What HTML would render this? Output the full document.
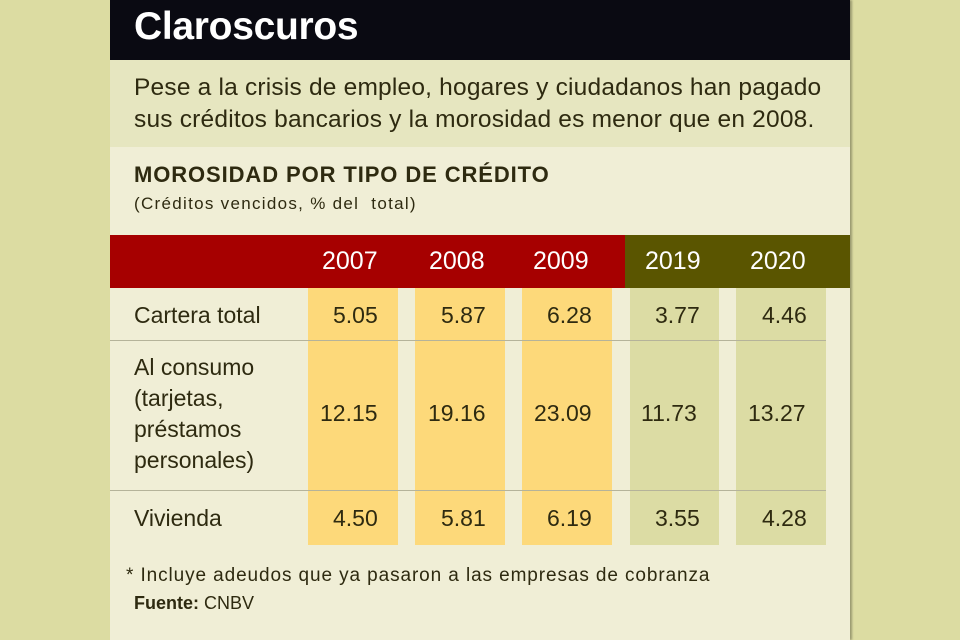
<!DOCTYPE html>
<html><head><meta charset="utf-8"><style>
body{margin:0;width:960px;height:640px;background:#dcdca2;position:relative;overflow:hidden;font-family:"Liberation Sans",sans-serif;color:#2e2a10}
.a{position:absolute}
</style></head><body>
<div class="a" style="left:110px;top:0;width:740px;height:640px;background:#f0eed6;box-shadow:2px 0 2px #9a9a70"></div>
<div class="a" style="left:110px;top:0;width:740px;height:60px;background:#0a0a12"></div>
<div class="a" style="left:134px;top:5px;font-size:39px;font-weight:bold;color:#fff;letter-spacing:-0.3px">Claroscuros</div>
<div class="a" style="left:110px;top:60px;width:740px;height:87px;background:#e6e6c0"></div>
<div class="a" style="left:134px;top:72px;font-size:24.5px;line-height:32px;letter-spacing:0.2px;color:#2e2a10">Pese a la crisis de empleo, hogares y ciudadanos han pagado<br>sus créditos bancarios y la morosidad es menor que en 2008.</div>
<div class="a" style="left:134px;top:162px;font-size:22px;font-weight:bold;letter-spacing:0.9px;color:#2e2a10">MOROSIDAD POR TIPO DE CRÉDITO</div>
<div class="a" style="left:134px;top:194px;font-size:17px;letter-spacing:1.3px;color:#2e2a10">(Créditos vencidos, % del &nbsp;total)</div>
<div class="a" style="left:110px;top:235px;width:515px;height:53px;background:#a60000"></div>
<div class="a" style="left:625px;top:235px;width:225px;height:53px;background:#5a5500"></div>
<div class="a" style="left:308px;top:288px;width:90px;height:257px;background:#fdd97a"></div>
<div class="a" style="left:415px;top:288px;width:90px;height:257px;background:#fdd97a"></div>
<div class="a" style="left:522px;top:288px;width:90px;height:257px;background:#fdd97a"></div>
<div class="a" style="left:630px;top:288px;width:89px;height:257px;background:#dcdca4"></div>
<div class="a" style="left:736px;top:288px;width:90px;height:257px;background:#dcdca4"></div>
<div class="a" style="left:110px;top:340px;width:716px;height:1px;background:#b5b39a"></div>
<div class="a" style="left:110px;top:490px;width:716px;height:1px;background:#b5b39a"></div>
<div class="a" style="left:0;top:247px;font-size:25px;color:#fff;width:960px">
<span class="a" style="left:322px">2007</span><span class="a" style="left:429px">2008</span><span class="a" style="left:533px">2009</span><span class="a" style="left:645px">2019</span><span class="a" style="left:750px">2020</span></div>
<div class="a" style="left:134px;top:302px;font-size:23px">Cartera total</div>
<div class="a" style="left:134px;top:352px;font-size:23px;line-height:31px">Al consumo<br>(tarjetas,<br>préstamos<br>personales)</div>
<div class="a" style="left:134px;top:505px;font-size:23px">Vivienda</div>
<div class="a" style="left:0;top:0;font-size:23px;width:960px">
<span class="a" style="left:333px;top:302px">5.05</span><span class="a" style="left:441px;top:302px">5.87</span><span class="a" style="left:547px;top:302px">6.28</span><span class="a" style="left:655px;top:302px">3.77</span><span class="a" style="left:762px;top:302px">4.46</span>
<span class="a" style="left:320px;top:400px">12.15</span><span class="a" style="left:428px;top:400px">19.16</span><span class="a" style="left:534px;top:400px">23.09</span><span class="a" style="left:641px;top:400px">11.73</span><span class="a" style="left:748px;top:400px">13.27</span>
<span class="a" style="left:333px;top:505px">4.50</span><span class="a" style="left:441px;top:505px">5.81</span><span class="a" style="left:547px;top:505px">6.19</span><span class="a" style="left:655px;top:505px">3.55</span><span class="a" style="left:762px;top:505px">4.28</span></div>
<div class="a" style="left:126px;top:565px;font-size:19px;letter-spacing:0.9px">* Incluye adeudos que ya pasaron a las empresas de cobranza</div>
<div class="a" style="left:134px;top:593px;font-size:18px"><b>Fuente:</b> CNBV</div>
</body></html>
